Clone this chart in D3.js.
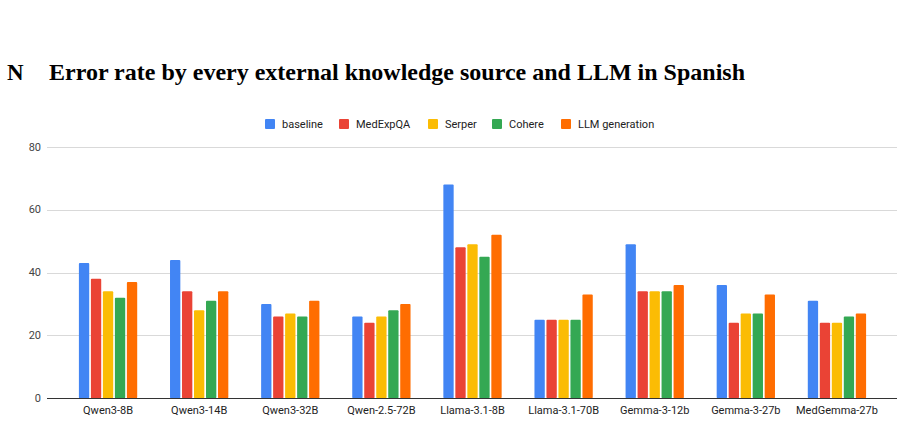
<!DOCTYPE html>
<html>
<head>
<meta charset="utf-8">
<script src="https://cdn.jsdelivr.net/npm/d3@7"></script>
<style>
  body { margin: 0; background: #fff; }
  svg { display: block; }
</style>
</head>
<body>
<div id="chart"></div>
<script>
var models = ["Qwen3-8B", "Qwen3-14B", "Qwen3-32B", "Qwen-2.5-72B", "Llama-3.1-8B",
              "Llama-3.1-70B", "Gemma-3-12b", "Gemma-3-27b", "MedGemma-27b"];
var sources = ["baseline", "MedExpQA", "Serper", "Cohere", "LLM generation"];
var colors = ["#4285f4", "#ea4335", "#fbbc04", "#34a853", "#ff6d01"];

var baseline = [43, 44, 30, 26, 68, 25, 49, 36, 31];
var medexpqa = [38, 34, 26, 24, 48, 25, 34, 24, 24];
var serper   = [34, 28, 27, 26, 49, 25, 34, 27, 24];
var cohere   = [32, 31, 26, 28, 45, 25, 34, 27, 26];
var llmgen   = [37, 34, 31, 30, 52, 33, 36, 33, 27];
var yTicks = [0, 20, 40, 60, 80];

var series = [baseline, medexpqa, serper, cohere, llmgen];

var width = 905, height = 421;
var svg = d3.select("#chart").append("svg")
    .attr("width", width)
    .attr("height", height);

// title
svg.append("text")
    .attr("x", 7)
    .attr("y", 80)
    .style("font-family", "'Liberation Serif', 'Times New Roman', serif")
    .style("font-weight", "bold")
    .style("font-size", "23px")
    .attr("fill", "#000")
    .text("N");
svg.append("text")
    .attr("x", 49)
    .attr("y", 80)
    .attr("textLength", 696)
    .attr("lengthAdjust", "spacingAndGlyphs")
    .style("font-family", "'Liberation Serif', 'Times New Roman', serif")
    .style("font-weight", "bold")
    .style("font-size", "23px")
    .attr("fill", "#000")
    .text("Error rate by every external knowledge source and LLM in Spanish");

var x = d3.scaleBand()
    .domain(models)
    .range([62.5, 882.5]);

var xInner = d3.scaleBand()
    .domain(sources)
    .range([0, 58.3])
    .paddingInner(0.14);

var y = d3.scaleLinear()
    .domain([0, 80])
    .range([398.3, 146.7]);

// gridlines
svg.append("g")
    .selectAll("line")
    .data(yTicks.filter(function(d) { return d > 0; }))
    .enter()
    .append("line")
    .attr("x1", 47)
    .attr("x2", 897)
    .attr("y1", function(d) { return Math.round(y(d)) + 0.5; })
    .attr("y2", function(d) { return Math.round(y(d)) + 0.5; })
    .attr("stroke", "#d9d9d9")
    .attr("stroke-width", 1);

// y labels
svg.append("g")
    .selectAll("text")
    .data(yTicks)
    .enter()
    .append("text")
    .attr("x", 41)
    .attr("y", function(d) { return y(d); })
    .attr("dy", "0.35em")
    .attr("text-anchor", "end")
    .style("font-family", "Roboto, Arial, sans-serif")
    .style("font-size", "11px")
    .attr("fill", "#444")
    .text(function(d) { return d; });

// bars
var groups = svg.append("g")
    .selectAll("g")
    .data(models)
    .enter()
    .append("g")
    .attr("transform", function(d) {
        return "translate(" + (x(d) + x.bandwidth() / 2 - 29.15) + ",0)";
    });

groups.selectAll("rect")
    .data(function(d, i) {
        return sources.map(function(s, j) { return { s: s, v: series[j][i], c: colors[j] }; });
    })
    .enter()
    .append("rect")
    .attr("x", function(d) { return xInner(d.s); })
    .attr("width", xInner.bandwidth())
    .attr("y", function(d) { return y(d.v); })
    .attr("height", function(d) { return y(0) - y(d.v); })
    .attr("rx", 1)
    .attr("fill", function(d) { return d.c; });

// baseline axis
svg.append("line")
    .attr("x1", 47)
    .attr("x2", 897)
    .attr("y1", 398.5)
    .attr("y2", 398.5)
    .attr("stroke", "#333")
    .attr("stroke-width", 1);

// x labels
svg.append("g")
    .selectAll("text")
    .data(models)
    .enter()
    .append("text")
    .attr("x", function(d) { return x(d) + x.bandwidth() / 2; })
    .attr("y", 410)
    .attr("dy", "0.35em")
    .attr("text-anchor", "middle")
    .style("font-family", "Roboto, Arial, sans-serif")
    .style("font-size", "11px")
    .attr("fill", "#222")
    .text(function(d) { return d; });

// legend
var legendX = [265, 339, 428, 492, 561];
var legend = svg.append("g")
    .selectAll("g")
    .data(sources)
    .enter()
    .append("g")
    .attr("transform", function(d, i) { return "translate(" + legendX[i] + ",119)"; });

legend.append("rect")
    .attr("width", 10)
    .attr("height", 10)
    .attr("rx", 1)
    .attr("fill", function(d, i) { return colors[i]; });

legend.append("text")
    .attr("x", 17)
    .attr("y", 5)
    .attr("dy", "0.35em")
    .style("font-family", "Roboto, Arial, sans-serif")
    .style("font-size", "11px")
    .attr("fill", "#222")
    .text(function(d) { return d; });
</script>
</body>
</html>
